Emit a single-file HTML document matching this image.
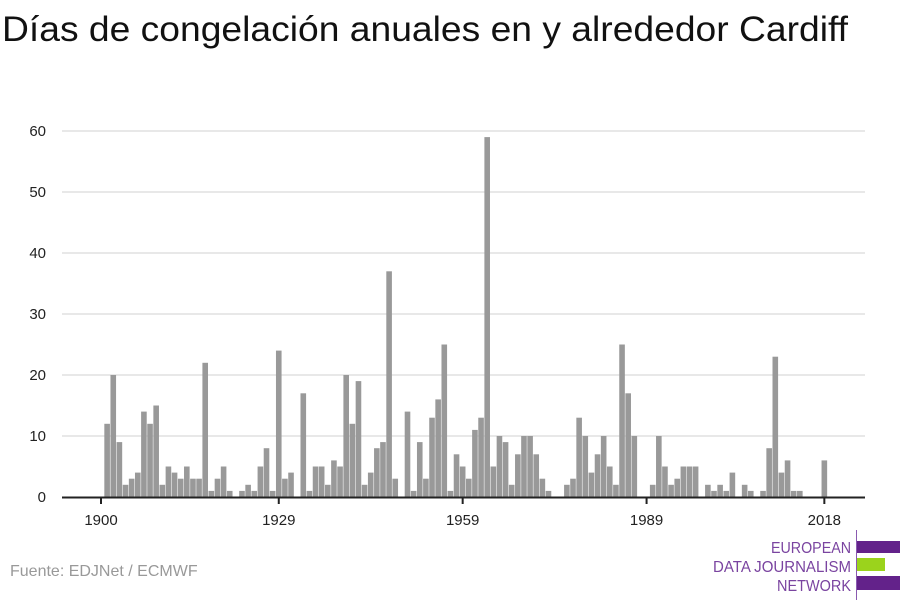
<!DOCTYPE html>
<html><head><meta charset="utf-8"><style>
body{margin:0;background:#fff;width:900px;height:600px;overflow:hidden;font-family:"Liberation Sans",sans-serif}
svg{display:block}
</style></head><body>
<svg id="chart" width="900" height="600" viewBox="0 0 900 600">
<text x="2" y="41" font-size="35" fill="#111" font-family="Liberation Sans, sans-serif" textLength="846" lengthAdjust="spacingAndGlyphs">Días de congelación anuales en y alrededor Cardiff</text>
<g id="grid"></g>
<g id="bars"></g>
<g id="axes"></g>
<text x="10" y="576" font-size="16" fill="#999">Fuente: EDJNet / ECMWF</text>
<g font-family="Liberation Sans Narrow, Liberation Sans, sans-serif" font-size="16" fill="#7a44a0" text-anchor="end">
<text x="851" y="553" textLength="80" lengthAdjust="spacingAndGlyphs">EUROPEAN</text>
<text x="851" y="572" textLength="138" lengthAdjust="spacingAndGlyphs">DATA JOURNALISM</text>
<text x="851" y="591" textLength="74" lengthAdjust="spacingAndGlyphs">NETWORK</text>
<rect x="856" y="530" width="1" height="70" fill="#8a5ab0"/>
<rect x="857" y="541" width="43" height="12" fill="#63228a"/>
<rect x="857" y="558" width="28" height="13" fill="#9bd31c"/>
<rect x="857" y="576" width="43" height="14" fill="#63228a"/>
</g>
</svg>
<script>
const startYear = 1900;
const values = [0,12,20,9,2,3,4,14,12,15,2,5,4,3,5,3,3,22,1,3,5,1,0,1,2,1,5,8,1,24,3,4,0,17,1,5,5,2,6,5,20,12,19,2,4,8,9,37,3,0,14,1,9,3,13,16,25,1,7,5,3,11,13,59,5,10,9,2,7,10,10,7,3,1,0,0,2,3,13,10,4,7,10,5,2,25,17,10,0,0,2,10,5,2,3,5,5,5,0,2,1,2,1,4,0,2,1,0,1,8,23,4,6,1,1,0,0,0,6];
const xTicks = [1900,1929,1959,1989,2018];
const yTicks = [0,10,20,30,40,50,60];
const NS="http://www.w3.org/2000/svg";
const X0=101, STEP=6.13, Y0=497, YU=6.1;
function x(yr){return X0+(yr-startYear)*STEP;}
function y(v){return Y0-v*YU;}
function mk(t,a,p){const e=document.createElementNS(NS,t);for(const k in a)e.setAttribute(k,a[k]);p.appendChild(e);return e;}
const grid=document.getElementById('grid'),bars=document.getElementById('bars'),axes=document.getElementById('axes');
yTicks.forEach(v=>{
  if(v>0){const l=mk('line',{x1:62,x2:865,y1:y(v),y2:y(v),stroke:'#e0e0e0','stroke-width':1.5},grid);
  
  }
  const t=mk('text',{x:46,y:y(v)+5,'text-anchor':'end','font-size':15,fill:'#222'},axes);
  t.textContent=v;
  
  
});
values.forEach((v,i)=>{
  if(v<=0)return;
  const yr=startYear+i;
  const r=mk('rect',{x:x(yr)-2.8,y:y(v),width:5.6,height:v*YU,fill:'#999'},bars);
  
  
});
const ax=mk('line',{x1:62,x2:865,y1:Y0+0.5,y2:Y0+0.5,stroke:'#222','stroke-width':2},axes);


xTicks.forEach(yr=>{
  const tk=mk('line',{x1:x(yr),x2:x(yr),y1:Y0,y2:Y0+7,stroke:'#222','stroke-width':2},axes);
  
  
  const t=mk('text',{x:x(yr),y:Y0+28,'text-anchor':'middle','font-size':15,fill:'#222'},axes);
  t.textContent=yr;
  
  
});
</script>
</body></html>
